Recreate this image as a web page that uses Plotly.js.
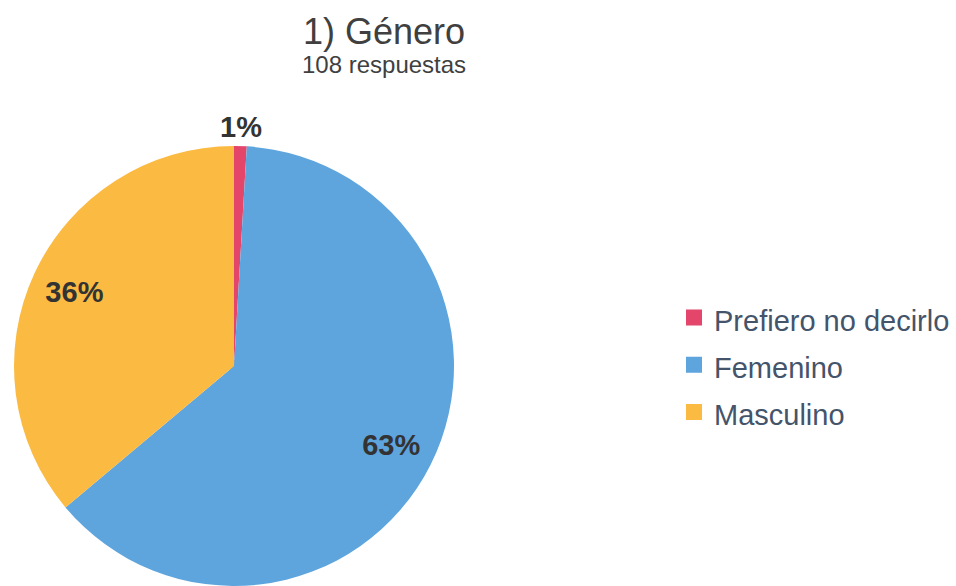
<!DOCTYPE html>
<html>
<head>
<meta charset="utf-8">
<script src="https://cdn.plot.ly/plotly-3.0.1.min.js"></script>
<style>html,body{margin:0;padding:0;background:#fff;}#chart{width:956px;height:586px;}</style>
</head>
<body>
<div id="chart"></div>
<script>
const categories = ["Prefiero no decirlo", "Femenino", "Masculino"];
const counts = [1, 68, 39];
const sliceColors = ["#E4456B", "#5EA5DE", "#FBBA42"];
const titleText = "1) Género";
const subtitleText = "108 respuestas";

const W = 956, H = 586;
const FONT = "Liberation Sans, Arial, sans-serif";
const pieDomain = {x: [14 / W, 454 / W], y: [0, 440 / H]};
const total = counts.reduce((a, b) => a + b, 0);
const R = 220, cx = 234, cy = 366;
const legendLabels = categories.map(c => '<span style="font-size:29px">' + c + '</span>');

// legend-only pie: tiny, drawn first and fully hidden under the main pie,
// its outline thickens the legend swatches
const legendPie = {
  type: "pie",
  labels: legendLabels,
  values: counts,
  sort: false,
  direction: "clockwise",
  marker: {colors: sliceColors, line: {width: 4, color: sliceColors}},
  textinfo: "none",
  domain: {x: [(cx - 4) / W, (cx + 4) / W], y: [1 - (cy + 4) / H, 1 - (cy - 4) / H]},
  hoverinfo: "none"
};

// main pie
const mainPie = {
  type: "pie",
  labels: legendLabels,
  values: counts,
  sort: false,
  direction: "clockwise",
  rotation: 0,
  showlegend: false,
  marker: {colors: sliceColors, line: {width: 0}},
  textinfo: "none",
  domain: pieDomain,
  hoverinfo: "none"
};

// transparent ring overlay so inside labels sit at ~0.8 of the radius
const labelRing = {
  type: "pie",
  labels: legendLabels,
  values: counts,
  sort: false,
  direction: "clockwise",
  rotation: 0,
  hole: 0.6,
  showlegend: false,
  marker: {colors: categories.map(() => "rgba(0,0,0,0)"), line: {width: 0}},
  texttemplate: "<b>%{percent:.0%}</b>",
  textposition: counts.map(v => v / total < 0.05 ? "none" : "inside"),
  insidetextorientation: "horizontal",
  textfont: {family: FONT, size: 29, color: "#333333"},
  domain: pieDomain,
  hoverinfo: "none"
};

// small slice label placed radially outside, centred on its bisector
const smallAnnots = [];
let cum = 0;
counts.forEach((v, i) => {
  const mid = (cum + v / 2) / total * 2 * Math.PI;
  cum += v;
  if (v / total < 0.05) {
    const px = cx + 1.08 * R * Math.sin(mid);
    const py = cy - 1.085 * R * Math.cos(mid);
    smallAnnots.push({
      text: "<b>" + Math.round(v / total * 100) + "%</b>",
      xref: "paper", yref: "paper",
      x: px / W, y: 1 - py / H,
      xanchor: "center", yanchor: "middle",
      showarrow: false,
      font: {family: FONT, size: 29, color: "#333333"}
    });
  }
});

const layout = {
  width: W, height: H,
  margin: {l: 0, r: 0, t: 0, b: 0},
  paper_bgcolor: "#ffffff",
  font: {family: FONT},
  title: {
    text: titleText,
    font: {family: FONT, size: 36, color: "#404040"},
    x: 384 / W, xanchor: "center", xref: "container",
    y: 1 - 31 / H, yanchor: "middle", yref: "container"
  },
  annotations: [{
    text: subtitleText,
    xref: "paper", yref: "paper",
    x: 384 / W, xanchor: "center",
    y: 1 - 65 / H, yanchor: "middle",
    showarrow: false,
    font: {family: FONT, size: 24, color: "#404040"}
  }].concat(smallAnnots),
  showlegend: true,
  legend: {
    x: 674 / W, xanchor: "left",
    y: 1 - 365 / H, yanchor: "middle",
    font: {family: FONT, size: 34, color: "#44546A"},
    itemwidth: 30,
    bgcolor: "rgba(0,0,0,0)"
  }
};

Plotly.newPlot("chart", [legendPie, mainPie, labelRing], layout, {displayModeBar: false, staticPlot: true});
</script>
</body>
</html>
